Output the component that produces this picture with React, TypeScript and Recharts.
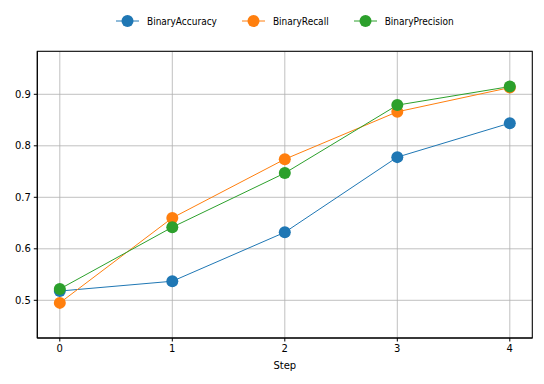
import React from "react";
import { LineChart, Line, XAxis, YAxis, CartesianGrid } from "recharts";

const steps = [0, 1, 2, 3, 4];
const binaryAccuracy = [0.518, 0.537, 0.632, 0.778, 0.844];
const binaryRecall = [0.495, 0.66, 0.774, 0.866, 0.913];
const binaryPrecision = [0.522, 0.642, 0.747, 0.879, 0.915];
const yTicks = [0.5, 0.6, 0.7, 0.8, 0.9];

const series = [
  { key: "BinaryAccuracy", color: "#1f77b4" },
  { key: "BinaryRecall", color: "#ff7f0e" },
  { key: "BinaryPrecision", color: "#2ca02c" },
];

const data = steps.map((s, i) => ({
  step: s,
  BinaryAccuracy: binaryAccuracy[i],
  BinaryRecall: binaryRecall[i],
  BinaryPrecision: binaryPrecision[i],
}));

const xDomain = [-0.2, 4.2];
const yDomain = [0.4268, 0.9835];

const font = "'DejaVu Sans', sans-serif";
const tickStyle = { fontSize: 10, fill: "#000", fontFamily: font };

// plot box in page pixels
const plot = { left: 37.3, top: 51.3, right: 532.3, bottom: 338 };

function LegendBar() {
  return (
    <div
      style={{
        position: "absolute",
        left: plot.left,
        top: 13,
        width: plot.right - plot.left,
        display: "flex",
        justifyContent: "center",
        gap: 25,
        fontFamily: "'DejaVu Sans Condensed', 'DejaVu Sans', sans-serif",
        fontSize: 10,
        color: "#000",
      }}
    >
      {series.map((s) => (
        <div key={s.key} style={{ display: "flex", alignItems: "center", height: 16 }}>
          <svg width={23} height={16} style={{ marginRight: 8 }}>
            <line x1={0} y1={8} x2={23} y2={8} stroke={s.color} strokeWidth={1} />
            <circle cx={11.5} cy={8} r={6} fill={s.color} />
          </svg>
          <span>{s.key}</span>
        </div>
      ))}
    </div>
  );
}

export default function App() {
  return (
    <div style={{ position: "relative", margin: -8, width: 544, height: 384, background: "#fff" }}>
      <LegendBar />
      <LineChart
        width={544}
        height={384}
        data={data}
        margin={{ top: plot.top, right: 544 - plot.right, bottom: 0, left: 0 }}
      >
        <CartesianGrid stroke="#b0b0b0" strokeWidth={0.8} />
        <XAxis
          dataKey="step"
          type="number"
          domain={xDomain}
          ticks={steps}
          allowDataOverflow
          height={384 - plot.bottom}
          stroke="#000"
          tick={tickStyle}
          tickSize={3.5}
          tickMargin={3}
          label={{ value: "Step", position: "insideBottom", offset: 15, style: tickStyle }}
        />
        <YAxis
          type="number"
          domain={yDomain}
          ticks={yTicks}
          allowDataOverflow
          width={plot.left}
          stroke="#000"
          tick={tickStyle}
          tickSize={3.5}
          tickMargin={3}
        />
        {series.map((s) => (
          <Line
            key={s.key}
            dataKey={s.key}
            type="linear"
            stroke={s.color}
            strokeWidth={1}
            dot={{ r: 6, fill: s.color, stroke: s.color, strokeWidth: 0 }}
            activeDot={false}
            isAnimationActive={false}
          />
        ))}
      </LineChart>
      {/* axes frame (top/right sides too, like matplotlib) */}
      <svg
        width={544}
        height={384}
        style={{ position: "absolute", left: 0, top: 0, zIndex: 10, pointerEvents: "none" }}
      >
        <rect
          x={plot.left}
          y={plot.top}
          width={plot.right - plot.left}
          height={plot.bottom - plot.top}
          fill="none"
          stroke="#000"
          strokeWidth={1}
        />
      </svg>
    </div>
  );
}
